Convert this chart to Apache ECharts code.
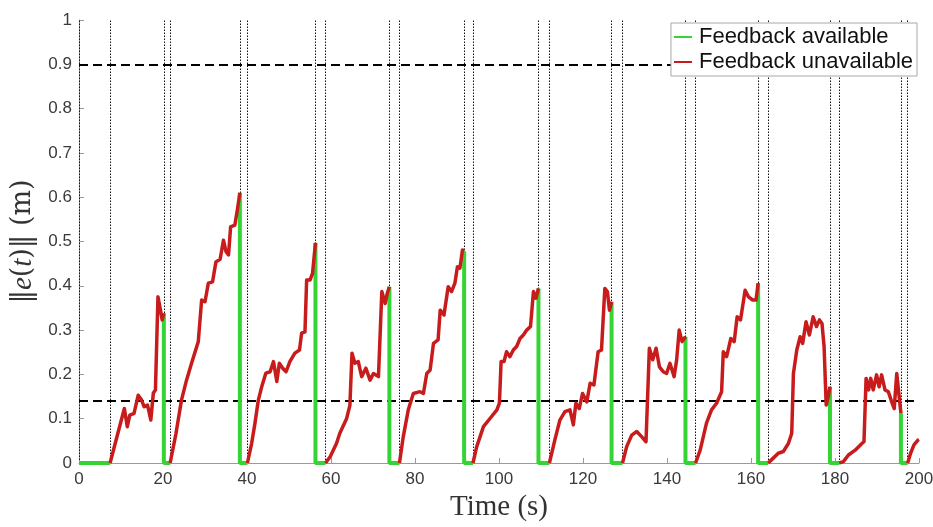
<!DOCTYPE html>
<html>
<head>
<meta charset="utf-8">
<script src="https://cdn.jsdelivr.net/npm/echarts@6/dist/echarts.min.js"></script>
<style>
  html, body { margin: 0; padding: 0; background: #fff; }
  #chart { width: 933px; height: 527px; }
</style>
</head>
<body>
<div id="chart"></div>
<script>
// Times (s) when feedback becomes available and when it is lost again
const feedbackOn  = [0, 20.2, 38.3, 56.3, 73.9, 91.7, 109.4, 126.8, 144.4, 161.7, 178.8, 195.7];
const feedbackOff = [7.4, 21.7, 40.1, 58.7, 76.3, 93.8, 112.0, 129.4, 146.8, 164.1, 181.0, 197.3];

// Error norm ||e(t)|| (m) while feedback is unavailable, one array per interval: [time, value]
const lost01 = [[7.4,0],[10.8,0.123],[11.5,0.082],[12.1,0.108],[13.1,0.112],[14.1,0.153],[14.9,0.142],[15.5,0.127],[16.3,0.131],[17.1,0.097],[17.7,0.158],[18.2,0.165],[18.8,0.375],[19.4,0.345],[19.8,0.323],[20.2,0.338]];
const lost02 = [[21.7,0],[23.1,0.067],[24.4,0.142],[25.6,0.187],[26.8,0.225],[28.4,0.274],[29.2,0.368],[30.0,0.364],[30.8,0.406],[31.8,0.409],[32.6,0.454],[33.6,0.46],[34.4,0.503],[35.0,0.477],[35.6,0.47],[36.1,0.533],[37.1,0.537],[37.7,0.571],[38.3,0.61]];
const lost03 = [[40.1,0],[41.1,0.044],[41.9,0.09],[42.7,0.142],[43.5,0.172],[44.5,0.203],[45.5,0.206],[46.3,0.229],[47.1,0.184],[47.7,0.225],[48.5,0.214],[49.3,0.206],[50.2,0.229],[51.4,0.248],[52.5,0.255],[53.0,0.293],[53.8,0.296],[54.2,0.413],[55.0,0.413],[55.6,0.428],[56.3,0.497]];
const lost04 = [[58.7,0],[59.8,0.014],[61.3,0.044],[62.1,0.067],[63.7,0.1],[64.5,0.13],[65.0,0.248],[65.7,0.225],[66.5,0.229],[67.3,0.195],[68.3,0.214],[69.3,0.187],[70.1,0.202],[71.3,0.195],[72.1,0.387],[72.9,0.36],[73.4,0.383],[73.9,0.398]];
const lost05 = [[76.3,0],[77.2,0.059],[78.4,0.12],[79.6,0.157],[81.2,0.161],[82.0,0.157],[82.8,0.202],[83.6,0.21],[84.4,0.27],[85.5,0.278],[86.0,0.345],[86.9,0.334],[87.9,0.398],[88.7,0.387],[89.5,0.406],[90.1,0.443],[90.7,0.44],[91.3,0.481],[91.7,0.478]];
const lost06 = [[93.8,0],[94.7,0.037],[96.3,0.082],[97.9,0.101],[99.5,0.12],[100.1,0.135],[100.5,0.229],[101.2,0.229],[101.8,0.251],[102.6,0.24],[103.4,0.255],[104.2,0.263],[105.0,0.281],[105.8,0.289],[106.6,0.3],[107.5,0.308],[108.2,0.387],[108.8,0.372],[109.4,0.394]];
const lost07 = [[112.0,0],[113.3,0.052],[114.5,0.097],[115.7,0.116],[116.9,0.12],[117.7,0.086],[118.3,0.135],[119.1,0.123],[119.9,0.157],[120.9,0.138],[121.7,0.18],[122.6,0.176],[123.6,0.251],[124.4,0.255],[125.2,0.394],[125.8,0.387],[126.3,0.345],[126.8,0.364]];
const lost08 = [[129.4,0],[130.4,0.037],[131.6,0.063],[132.8,0.071],[134.0,0.059],[135.0,0.048],[135.8,0.259],[136.6,0.233],[137.4,0.259],[138.2,0.217],[139.1,0.206],[139.9,0.202],[140.7,0.225],[141.7,0.195],[142.3,0.233],[142.9,0.3],[143.6,0.274],[144.4,0.285]];
const lost09 = [[146.8,0],[147.9,0.029],[149.4,0.09],[150.6,0.12],[151.8,0.135],[153.0,0.161],[153.4,0.251],[154.2,0.24],[155.2,0.281],[156.0,0.274],[156.7,0.33],[157.5,0.323],[158.6,0.39],[159.4,0.375],[160.4,0.368],[161.2,0.368],[161.7,0.406]];
const lost10 = [[164.1,0],[165.3,0.011],[166.5,0.022],[167.7,0.026],[168.9,0.044],[169.7,0.067],[170.1,0.202],[170.9,0.255],[171.7,0.285],[172.3,0.27],[173.1,0.319],[173.9,0.289],[174.8,0.33],[175.6,0.308],[176.3,0.323],[176.9,0.315],[177.4,0.263],[177.9,0.131],[178.4,0.15],[178.8,0.172]];
const lost11 = [[181.0,0],[182.0,0.003],[183.2,0.018],[184.8,0.029],[186.4,0.044],[186.9,0.048],[187.4,0.191],[188.0,0.165],[188.5,0.191],[189.1,0.165],[189.9,0.199],[190.5,0.172],[191.1,0.199],[191.9,0.165],[192.7,0.161],[193.5,0.138],[194.1,0.123],[194.7,0.202],[195.2,0.157],[195.7,0.112]];
const lost12 = [[197.3,0],[198.0,0.022],[198.8,0.041],[199.8,0.052],[200,0.053]];

// Threshold levels (m)
const thresholds = [0.9, 0.14];

// Axis ticks
const xTicks = { min: 0, max: 200, step: 20 };
const yTicks = { min: 0, max: 1, step: 0.1 };

const lostSegments = [lost01, lost02, lost03, lost04, lost05, lost06, lost07, lost08, lost09, lost10, lost11, lost12];

// Red path: every unavailable interval, separated by gaps
const redData = [];
lostSegments.forEach((seg, i) => {
  if (i > 0) redData.push([null, null]);
  seg.forEach(p => redData.push(p));
});

// Green path: reset to zero when feedback arrives, held at zero until it is lost
const greenData = [];
feedbackOn.forEach((tOn, i) => {
  if (i > 0) greenData.push([null, null]);
  const prev = i > 0 ? lostSegments[i - 1] : null;
  const dropFrom = prev ? prev[prev.length - 1][1] : 0;
  greenData.push([tOn, dropFrom]);
  greenData.push([tOn, 0]);
  greenData.push([feedbackOff[i], 0]);
});

const switchTimes = [];
feedbackOn.forEach((t, i) => { switchTimes.push(t); switchTimes.push(feedbackOff[i]); });

const chart = echarts.init(document.getElementById('chart'), null, { renderer: 'canvas' });

const axisGray = '#9a9a9a';
const green = '#35d435';
const red = '#c81c1c';
const labelFont = { fontFamily: 'Liberation Sans, Arial, sans-serif', fontSize: 17, color: '#3a3a3a' };

chart.setOption({
  animation: false,
  backgroundColor: '#fff',
  grid: { left: 79, right: 14, top: 20, bottom: 64, outerBoundsMode: 'none' },
  legend: {
    orient: 'vertical',
    right: 16,
    top: 23,
    z: 20,
    data: ['Feedback available', 'Feedback unavailable'],
    icon: 'rect',
    itemWidth: 18,
    itemHeight: 2,
    itemGap: 3,
    padding: [3, 4, 3, 3],
    backgroundColor: '#fff',
    borderColor: '#a8a8a8',
    borderWidth: 1,
    borderRadius: 0,
    textStyle: { fontFamily: 'Liberation Sans, Arial, sans-serif', fontSize: 22, color: '#111', padding: [0, 0, 0, 2] }
  },
  xAxis: {
    type: 'value',
    min: xTicks.min, max: xTicks.max, interval: xTicks.step,
    name: 'Time (s)',
    nameLocation: 'middle',
    nameGap: 28,
    nameTextStyle: { fontFamily: 'Liberation Serif, DejaVu Serif, serif', fontSize: 29, color: '#333' },
    axisLine: { lineStyle: { color: axisGray, width: 1 } },
    axisTick: { inside: true, length: 5, lineStyle: { color: axisGray } },
    axisLabel: Object.assign({ margin: 8 }, labelFont),
    splitLine: { show: false }
  },
  yAxis: {
    type: 'value',
    min: yTicks.min, max: yTicks.max, interval: yTicks.step,
    name: '{n|‖}{i|e}{n|(}{i|t}{n|)‖ (m)}',
    nameLocation: 'middle',
    nameGap: 37,
    nameRotate: 90,
    nameTextStyle: {
      rich: {
        n: { fontFamily: 'DejaVu Serif, Liberation Serif, serif', fontSize: 27, color: '#333' },
        i: { fontFamily: 'Liberation Serif, DejaVu Serif, serif', fontStyle: 'italic', fontSize: 29, color: '#333' }
      }
    },
    axisLine: { show: true, lineStyle: { color: axisGray, width: 1 } },
    axisTick: { show: true, inside: true, length: 5, lineStyle: { color: axisGray } },
    axisLabel: Object.assign({ margin: 7 }, labelFont),
    splitLine: { show: false }
  },
  series: [
    {
      // reference lines: switching instants (dotted) and thresholds (dashed)
      name: 'guides',
      type: 'line',
      data: [],
      z: 1,
      markLine: {
        z: 1,
        silent: true,
        symbol: ['none', 'none'],
        label: { show: false },
        emphasis: { disabled: true },
        data: switchTimes.map(t => ({ xAxis: t, lineStyle: { color: '#111', width: 1, type: [1.5, 1.5] } }))
          .concat(thresholds.map(v => ({ yAxis: v, lineStyle: { color: '#000', width: 2, type: [9, 5] } })))
      }
    },
    {
      name: 'Feedback available',
      type: 'line',
      data: greenData,
      showSymbol: false,
      symbol: 'none',
      connectNulls: false,
      color: green,
      lineStyle: { color: green, width: 4 },
      z: 3
    },
    {
      name: 'Feedback unavailable',
      type: 'line',
      data: redData,
      showSymbol: false,
      symbol: 'none',
      connectNulls: false,
      color: red,
      lineStyle: { color: red, width: 3.5, join: 'round' },
      z: 4
    }
  ]
});
</script>
</body>
</html>
